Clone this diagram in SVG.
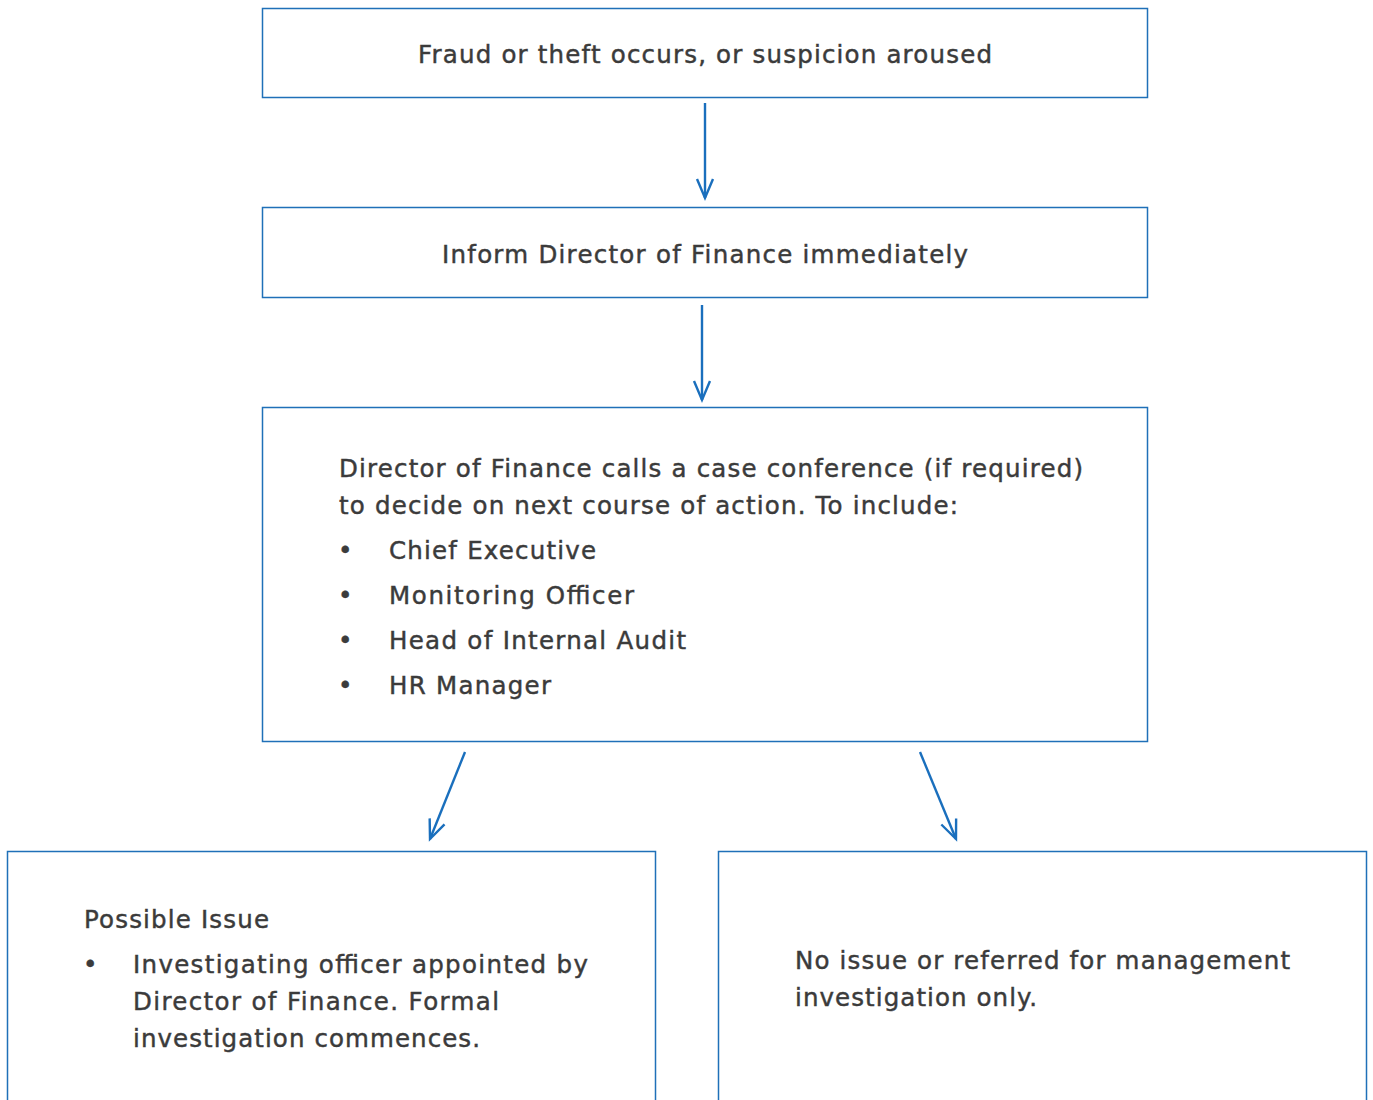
<svg xmlns="http://www.w3.org/2000/svg" width="1373" height="1100" viewBox="0 0 1373 1100">
<style>
.box{fill:#fff;stroke:#1f70b8;stroke-width:1.5}
.t{font-family:"DejaVu Sans","Liberation Sans",sans-serif;font-size:24.5px;fill:#3b3b3b;stroke:#3b3b3b;stroke-width:0.45}
.c{text-anchor:middle}
.con{stroke:#1a6fbd;stroke-width:2.4;fill:none}
</style>
<defs>
<marker id="ah" markerWidth="26" markerHeight="24" viewBox="-22 -12 26 24" refX="0" refY="0" orient="auto" markerUnits="userSpaceOnUse">
<path d="M-19,-8 L0,0 L-19,8" fill="none" stroke="#1a6fbd" stroke-width="2.4"/>
</marker>
</defs>
<rect width="1373" height="1100" fill="#fff"/>
<g id="n1"><rect class="box" x="262.5" y="8.5" width="885" height="89"/>
<text class="t c" x="705" y="63" textLength="574" lengthAdjust="spacing">Fraud or theft occurs, or suspicion aroused</text></g>
<g id="n2"><rect class="box" x="262.5" y="207.5" width="885" height="90"/>
<text class="t c" x="705" y="263" textLength="526" lengthAdjust="spacing">Inform Director of Finance immediately</text></g>
<g id="n3"><rect class="box" x="262.5" y="407.5" width="885" height="334"/>
<text class="t" x="339" y="477" textLength="744" lengthAdjust="spacing">Director of Finance calls a case conference (if required)</text>
<text class="t" x="339" y="514" textLength="619" lengthAdjust="spacing">to decide on next course of action. To include:</text>
<text class="t" x="338" y="559">•</text><text class="t" x="389" y="559" textLength="207" lengthAdjust="spacing">Chief Executive</text>
<text class="t" x="338" y="604">•</text><text class="t" x="389" y="604" textLength="245" lengthAdjust="spacing">Monitoring Officer</text>
<text class="t" x="338" y="649">•</text><text class="t" x="389" y="649" textLength="297" lengthAdjust="spacing">Head of Internal Audit</text>
<text class="t" x="338" y="694">•</text><text class="t" x="389" y="694" textLength="162" lengthAdjust="spacing">HR Manager</text></g>
<g id="n4"><rect class="box" x="7.5" y="851.5" width="648" height="260"/>
<text class="t" x="84" y="928" textLength="185" lengthAdjust="spacing">Possible Issue</text>
<text class="t" x="83" y="973">•</text>
<text class="t" x="133" y="973" textLength="455" lengthAdjust="spacing">Investigating officer appointed by</text>
<text class="t" x="133" y="1010" textLength="366" lengthAdjust="spacing">Director of Finance. Formal</text>
<text class="t" x="133" y="1047" textLength="347" lengthAdjust="spacing">investigation commences.</text></g>
<g id="n5"><rect class="box" x="718.5" y="851.5" width="648" height="260"/>
<text class="t" x="795" y="969" textLength="495" lengthAdjust="spacing">No issue or referred for management</text>
<text class="t" x="795" y="1006" textLength="242" lengthAdjust="spacing">investigation only.</text></g>
<g id="connectors">
<line class="con" x1="705" y1="103" x2="705" y2="198" marker-end="url(#ah)"/>
<line class="con" x1="702" y1="305" x2="702" y2="400" marker-end="url(#ah)"/>
<line class="con" x1="465" y1="752" x2="430" y2="839" marker-end="url(#ah)"/>
<line class="con" x1="920" y1="752" x2="956" y2="839" marker-end="url(#ah)"/>
</g>
</svg>
